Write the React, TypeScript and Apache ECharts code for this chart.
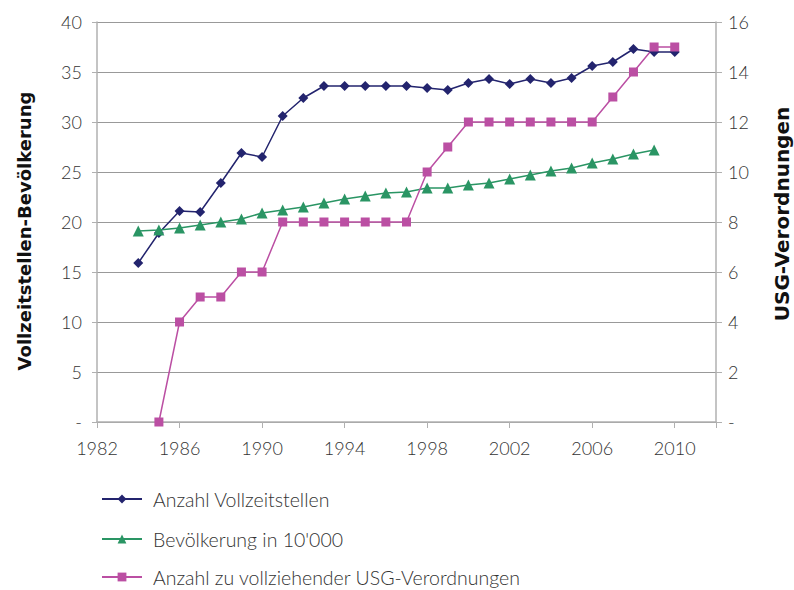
import React, { useEffect, useRef } from "react";
import * as echarts from "echarts";

const years = [1984,1985,1986,1987,1988,1989,1990,1991,1992,1993,1994,1995,1996,1997,1998,1999,2000,2001,2002,2003,2004,2005,2006,2007,2008,2009,2010];
const vollzeitstellen = [15.9,18.9,21.1,21.0,23.9,26.9,26.5,30.6,32.4,33.6,33.6,33.6,33.6,33.6,33.4,33.2,33.9,34.3,33.8,34.3,33.9,34.4,35.6,36.0,37.3,37.0,37.0];
const bevoelkerung = [19.1,19.2,19.4,19.7,20.0,20.3,20.9,21.2,21.5,21.9,22.3,22.6,22.9,23.0,23.4,23.4,23.7,23.9,24.3,24.7,25.1,25.4,25.9,26.3,26.8,27.2,null];
const usg = [null,0,4,5,5,6,6,8,8,8,8,8,8,8,10,11,12,12,12,12,12,12,12,13,14,15,15];

const seriesNames = ["Anzahl Vollzeitstellen", "Bevölkerung in 10'000", "Anzahl zu vollziehender USG-Verordnungen"];
const leftAxisName = "Vollzeitstellen-Bevölkerung";
const rightAxisName = "USG-Verordnungen";

const pairs = (vals: (number | null)[]) =>
  years.map((y, i) => [y, vals[i]]).filter((p) => p[1] !== null);

export default function App() {
  const ref = useRef<HTMLDivElement>(null);
  useEffect(() => {
    if (!ref.current) return;
    const chart = echarts.init(ref.current, null, { renderer: "svg" });
    const font = "Lato";
    const tickColor = "#333";
    const axisLineColor = "#b0b0b0";
    const titleStyle = { fontFamily: "DejaVu Sans", fontWeight: "bold", fill: "#111", align: "center", verticalAlign: "middle" };
    const legendTops = [486, 526, 564];
    chart.setOption({
      animation: false,
      textStyle: { fontFamily: font },
      grid: { left: 97, right: 78, top: 22, bottom: 168 },
      graphic: [
        {
          type: "text",
          x: 24,
          y: 231,
          rotation: Math.PI / 2,
          style: { ...titleStyle, text: leftAxisName, fontSize: 18 },
        },
        {
          type: "text",
          x: 782,
          y: 214,
          rotation: Math.PI / 2,
          style: { ...titleStyle, text: rightAxisName, fontSize: 20 },
        },
      ],
      legend: seriesNames.map((n, i) => ({
        orient: "vertical",
        left: 96,
        top: legendTops[i],
        padding: [2, 5, 2, 5],
        itemWidth: 40,
        itemHeight: 11,
        textStyle: { fontFamily: font, fontSize: 19.5, lineHeight: 22, color: "#333", fontWeight: 300, padding: [0, 0, 0, 6] },
        data: [n],
      })),
      xAxis: {
        type: "value",
        min: 1982,
        max: 2012,
        interval: 4,
        axisLine: { show: true, lineStyle: { color: axisLineColor, width: 1.5 } },
        axisTick: { show: true, length: 6, lineStyle: { color: axisLineColor } },
        splitLine: { show: false },
        axisLabel: {
          color: tickColor,
          fontSize: 18,
          fontWeight: 300,
          margin: 17,
          formatter: (v: number) => (v === 2012 ? "" : String(v)),
        },
      },
      yAxis: [
        {
          type: "value",
          min: 0,
          max: 40,
          interval: 5,
          axisLine: { show: true, lineStyle: { color: axisLineColor, width: 1.5 } },
          axisTick: { show: true, length: 5, lineStyle: { color: axisLineColor } },
          splitLine: { show: true, lineStyle: { color: "#999", width: 1 } },
          axisLabel: {
            color: tickColor,
            fontSize: 18,
            fontWeight: 300,
            margin: 15,
            formatter: (v: number) => (v === 0 ? "-" : String(v)),
          },
        },
        {
          type: "value",
          min: 0,
          max: 16,
          interval: 2,
          axisLine: { show: true, lineStyle: { color: axisLineColor, width: 1.5 } },
          axisTick: { show: true, length: 6, lineStyle: { color: axisLineColor } },
          splitLine: { show: false },
          axisLabel: {
            color: tickColor,
            fontSize: 18,
            fontWeight: 300,
            margin: 12,
            formatter: (v: number) => (v === 0 ? "-" : String(v)),
          },
        },
      ],
      series: [
        {
          name: seriesNames[0],
          type: "line",
          yAxisIndex: 0,
          data: pairs(vollzeitstellen),
          symbol: "diamond",
          symbolSize: 10,
          lineStyle: { color: "#23246e", width: 1.5 },
          itemStyle: { color: "#23246e" },
        },
        {
          name: seriesNames[1],
          type: "line",
          yAxisIndex: 0,
          data: pairs(bevoelkerung),
          symbol: "triangle",
          symbolSize: 11,
          lineStyle: { color: "#2a9564", width: 1.5 },
          itemStyle: { color: "#2a9564" },
        },
        {
          name: seriesNames[2],
          type: "line",
          yAxisIndex: 1,
          data: pairs(usg),
          symbol: "rect",
          symbolSize: 9,
          lineStyle: { color: "#bb4fa3", width: 1.5 },
          itemStyle: { color: "#bb4fa3" },
        },
      ],
    });
    return () => chart.dispose();
  }, []);
  return <div ref={ref} style={{ width: 794, height: 590, position: "absolute", left: 0, top: 0 }} />;
}
